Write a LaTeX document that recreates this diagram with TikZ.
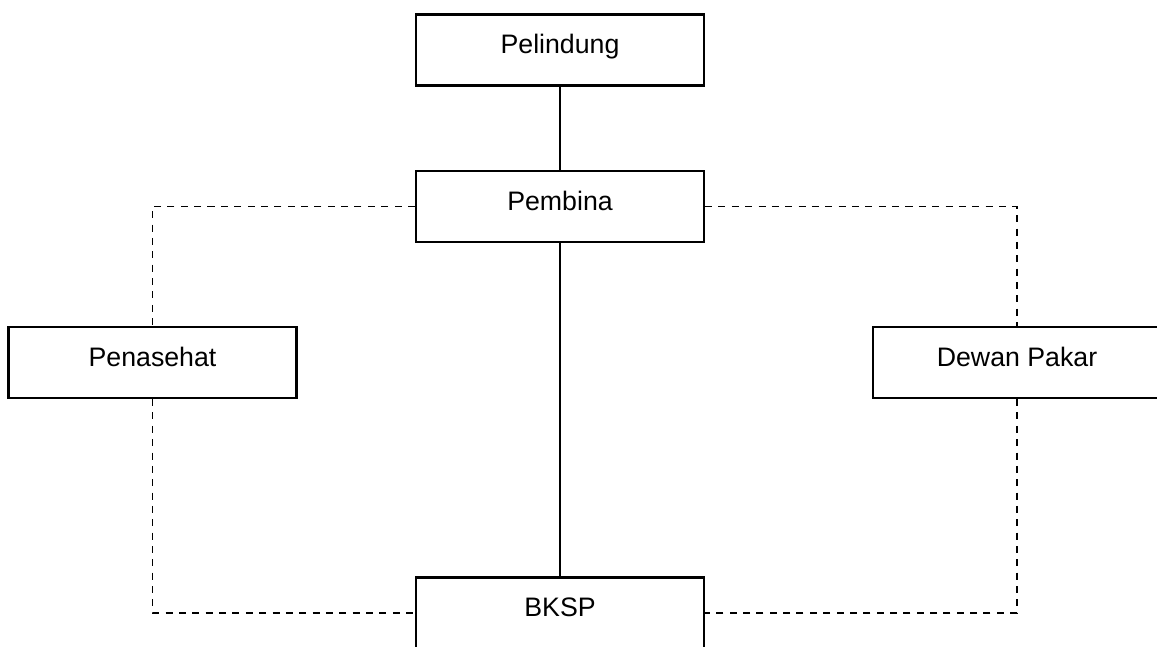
\documentclass[tikz,border=0pt]{standalone}
\usepackage{fontspec}
\setmainfont{Liberation Sans}
\usepackage{tikz}

\begin{document}
\begin{tikzpicture}[x=0.025cm, y=-0.025cm, line width=1pt]
    \tikzstyle{box_style} = [rectangle, draw=black, line width=1.5pt, inner sep=0pt, minimum width=7.2cm, minimum height=1.775cm, text height=0.975cm, text depth=0.8cm, font=\fontsize{19}{21}\selectfont]
    \tikzstyle{edge_style} = [draw=black, line width=1.3pt]
    \tikzstyle{dash_style} = [draw=black, line width=1.4pt, dash pattern=on 5pt off 4.5pt]
    \clip (0,0) rectangle (1157,646);
    \fill[white] (0,0) rectangle (1157,646);

    \node[box_style] (pelindung) at (560,50) {Pelindung};
    \node[box_style] (pembina) at (560,206.5) {Pembina};
    \node[box_style] (penasehat) at (152.5,362.5) {Penasehat};
    \node[box_style] (pakar) at (1017,362.5) {Dewan Pakar};
    \node[box_style] (bksp) at (560,613) {BKSP};

    \draw[edge_style] (pelindung) -- (pembina);
    \draw[edge_style] (pembina) -- (bksp);
    \draw[dash_style] (pembina.west) -| (penasehat.north);
    \draw[dash_style] (penasehat.south) |- (bksp.west);
    \draw[dash_style] (pembina.east) -| (pakar.north);
    \draw[dash_style] (pakar.south) |- (bksp.east);
\end{tikzpicture}
\end{document}
